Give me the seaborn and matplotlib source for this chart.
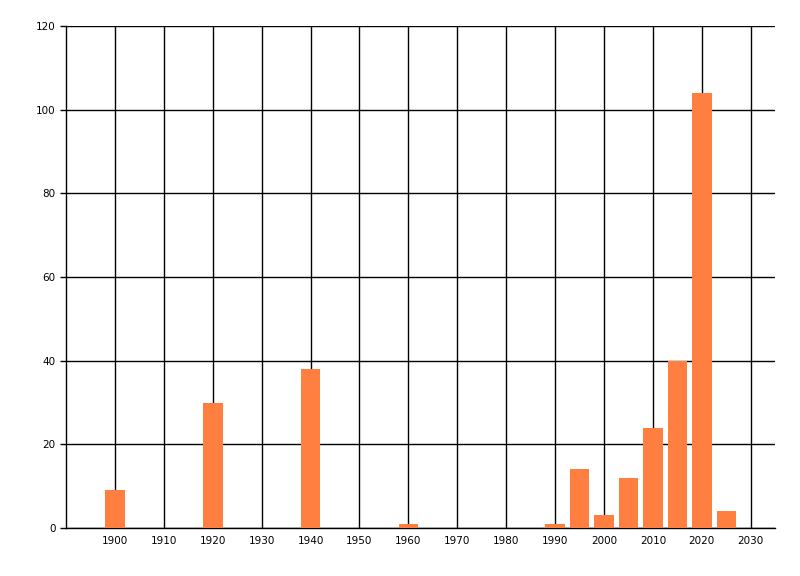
import matplotlib
matplotlib.use('Agg')
import matplotlib.pyplot as plt
import seaborn as sns
import pandas as pd

# values
years = [1900, 1920, 1940, 1960, 1990, 1995, 2000, 2005, 2010, 2015, 2020, 2025]
counts = [9, 30, 38, 1, 1, 14, 3, 12, 24, 40, 104, 4]
x_ticks = list(range(1900, 2031, 10))
y_ticks = list(range(0, 121, 20))

df = pd.DataFrame({'year': years, 'count': counts})

sns.set_style('white')
plt.rcParams['font.family'] = ['DejaVu Sans']

fig = plt.figure(figsize=(8, 5.76), dpi=100)
ax = fig.add_axes([0.0825, 0.0833, 0.8865, 0.8716])

sns.barplot(data=df, x='year', y='count', native_scale=True, width=0.8,
            color='#FF7F41', saturation=1, linewidth=0, edgecolor='none',
            ax=ax, zorder=3)

ax.set_xlim(1890, 2035)
ax.set_ylim(0, 120)
ax.set_xticks(x_ticks)
ax.set_yticks(y_ticks)
ax.tick_params(axis='both', labelsize=7.5, colors='black')
ax.tick_params(axis='y', length=4, width=1, direction='out', left=True)
ax.tick_params(axis='x', length=0, pad=6)
ax.grid(True, color='black', linewidth=1, zorder=0)
ax.set_axisbelow(True)
ax.set_xlabel('')
ax.set_ylabel('')
for side in ['top', 'right']:
    ax.spines[side].set_visible(False)
for side in ['left', 'bottom']:
    ax.spines[side].set_color('black')
    ax.spines[side].set_linewidth(1)

fig.savefig('out.png', dpi=100)
